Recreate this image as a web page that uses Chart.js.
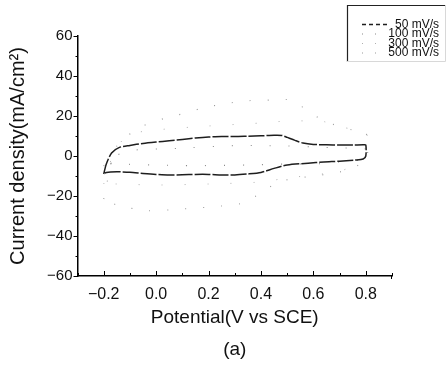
<!DOCTYPE html>
<html>
<head>
<meta charset="utf-8">
<script src="https://cdn.jsdelivr.net/npm/chart.js@4.4.1/dist/chart.umd.min.js"></script>
<style>
html,body{margin:0;padding:0;background:#fff;}
#wrap{width:447px;height:366px;}
</style>
</head>
<body>
<div id="wrap"><canvas id="c" width="447" height="366"></canvas></div>
<script>
// ---- data ----
const seriesLabels = ['50 mV/s', '100 mV/s', '300 mV/s', '500 mV/s'];

const potential50 = [-0.2, -0.19, -0.17, -0.14, -0.1, -0.05, 0.0, 0.05, 0.1, 0.15, 0.2, 0.25, 0.3, 0.35, 0.4, 0.45, 0.48, 0.5, 0.53, 0.56, 0.6, 0.65, 0.7, 0.75, 0.79, 0.8, 0.8, 0.79, 0.76, 0.7, 0.64, 0.58, 0.5, 0.45, 0.4, 0.35, 0.3, 0.25, 0.2, 0.15, 0.1, 0.05, 0.0, -0.05, -0.1, -0.15, -0.19, -0.2];
const current50 = [-9, -4, 1.5, 4.3, 5.3, 6.3, 7, 7.6, 8.3, 9, 9.5, 9.7, 9.7, 9.9, 10.1, 10.4, 10.3, 9.3, 7.8, 6.5, 5.8, 5.6, 5.5, 5.5, 5.6, 5.5, 0, -1.5, -2, -2.6, -3, -3.6, -4.5, -6.2, -8.2, -9, -9.5, -9.5, -9.2, -9.2, -9.4, -9.5, -9.2, -8.7, -8.1, -7.9, -8.2, -9];

const potential100 = [-0.2, -0.17, -0.1, 0.08, 0.3, 0.4, 0.5, 0.6, 0.7, 0.8, 0.8, 0.7, 0.6, 0.5, 0.35, 0.18, 0.1, 0.0, -0.1, -0.165, -0.2];
const current100 = [-5, -1, 2.7, 3.8, 5.2, 5.2, 5, 4.5, 4, 3.5, -1, -3, -4, -4, -4.5, -4.8, -4.8, -4.5, -4.2, -3.7, -5];

const potential300 = [-0.2, -0.16, -0.106, 0.0, 0.2, 0.4, 0.5, 0.6, 0.64, 0.71, 0.8, 0.8, 0.75, 0.7, 0.6, 0.5, 0.4, 0.2, 0.0, -0.15, -0.2];
const current300 = [-14, 2, 10.5, 13, 15, 16.5, 17.5, 17.5, 17.2, 14.3, 12, 0, -4.8, -7.7, -9.5, -11, -13, -14, -14.5, -14, -14];

const potential500 = [-0.2, -0.15, -0.05, 0.05, 0.125, 0.17, 0.27, 0.356, 0.45, 0.5, 0.53, 0.587, 0.65, 0.75, 0.8, 0.8, 0.7, 0.6, 0.486, 0.42, 0.34, 0.25, 0.1, -0.034, -0.15, -0.2];
const current500 = [-21.5, 5, 15, 19.5, 21.8, 23.8, 26.3, 27.7, 28, 28.2, 27, 21.8, 17, 13, 12, -2, -8, -10, -12.3, -16.5, -23.2, -25, -26.5, -27.3, -24.5, -21.5];

const xTickValues = [-0.2, 0.0, 0.2, 0.4, 0.6, 0.8];
const yTickValues = [-60, -40, -20, 0, 20, 40, 60];

// ---- build ----
function pts(xs, ys){ return xs.map((x,i)=>({x:x, y:ys[i]})); }
const styles = [
  {color:'#1e1e1e', width:1.5, dash:[16,2]},
  {color:'#8a8a8a', width:1.1, dash:[1,18]},
  {color:'#b0b0b0', width:1.0, dash:[1,22]},
  {color:'#9a9a9a', width:1.1, dash:[1,17]}
];
const dataPairs = [[potential50,current50],[potential100,current100],[potential300,current300],[potential500,current500]];
const datasets = dataPairs.map((p,i)=>({
  label: seriesLabels[i],
  data: pts(p[0],p[1]),
  showLine: true,
  pointRadius: 0,
  borderColor: styles[i].color,
  borderWidth: styles[i].width,
  borderDash: styles[i].dash,
  tension: 0.25,
  fill: false
}));

const minus = s => String(s).replace('-', '\u2212');

const tickPlugin = {
  id: 'manualTicks',
  afterDraw(chart){
    const ctx = chart.ctx, xs = chart.scales.x, ys = chart.scales.y;
    const a = chart.chartArea;
    ctx.save();
    ctx.strokeStyle = '#000';
    ctx.lineWidth = 1;
    for (let k = -3; k <= 9; k++){
      const v = k/10;
      const px = Math.round(xs.getPixelForValue(v)) + 0.5;
      const major = (k % 2 === 0);
      ctx.beginPath();
      ctx.moveTo(px, a.bottom);
      ctx.lineTo(px, a.bottom - (major ? 5 : 3));
      ctx.stroke();
    }
    ctx.beginPath();
    ctx.moveTo(a.right - 0.5, a.bottom);
    ctx.lineTo(a.right - 0.5, a.bottom + 3);
    ctx.stroke();
    for (let v = -60; v <= 60; v += 10){
      const py = Math.round(ys.getPixelForValue(v)) + 0.5;
      const major = (v % 20 === 0);
      ctx.beginPath();
      ctx.moveTo(a.left, py);
      ctx.lineTo(a.left - (major ? 4 : 2), py);
      ctx.stroke();
    }
    ctx.restore();
  }
};

const legendPlugin = {
  id: 'boxLegend',
  afterDraw(chart){
    const ctx = chart.ctx;
    const L = 347, T = 5, R = 446, B = 62;
    ctx.save();
    ctx.strokeStyle = '#222';
    ctx.lineWidth = 1.2;
    ctx.beginPath();
    ctx.moveTo(L + 0.5, B); ctx.lineTo(L + 0.5, T + 0.5); ctx.lineTo(R, T + 0.5);
    ctx.stroke();
    ctx.strokeStyle = '#d8d8d8';
    ctx.lineWidth = 1;
    ctx.beginPath();
    ctx.moveTo(R - 0.5, T); ctx.lineTo(R - 0.5, B - 0.5); ctx.lineTo(L, B - 0.5);
    ctx.stroke();
    const rows = [24.5, 34, 43.5, 53];
    ctx.font = '12px "Liberation Sans", Arial, sans-serif';
    ctx.fillStyle = '#111';
    ctx.textAlign = 'right';
    ctx.textBaseline = 'middle';
    chart.data.datasets.forEach((ds, i) => {
      const y = rows[i];
      ctx.fillText(ds.label, 439, y);
      ctx.save();
      ctx.strokeStyle = ds.borderColor;
      ctx.lineWidth = ds.borderWidth;
      ctx.setLineDash(i === 0 ? [4,3] : [1,12]);
      ctx.beginPath();
      ctx.moveTo(362, y); ctx.lineTo(388, y);
      ctx.stroke();
      ctx.restore();
    });
    ctx.restore();
  }
};

const fontFam = '"Liberation Sans", Arial, Helvetica, sans-serif';

new Chart(document.getElementById('c'), {
  type: 'scatter',
  data: { datasets },
  options: {
    responsive: false,
    animation: false,
    devicePixelRatio: 1,
    layout: { padding: { left: 0, top: 36, right: 55, bottom: 0 } },
    plugins: { legend: { display: false }, tooltip: { enabled: false } },
    scales: {
      x: {
        type: 'linear',
        min: -0.3, max: 0.9,
        afterBuildTicks: s => { s.ticks = xTickValues.map(v => ({value: v})); },
        afterFit: s => { s.height = 90; },
        grid: { display: true, drawOnChartArea: false, drawTicks: false, color: 'rgba(0,0,0,0)' },
        border: { display: true, color: '#000', width: 1.5 },
        ticks: {
          padding: 9, color: '#111',
          font: { family: fontFam, size: 16 },
          maxRotation: 0,
          callback: v => minus(Number(v).toFixed(1))
        },
        title: {
          display: true,
          text: ['Potential(V vs SCE)', '(a)'],
          color: '#111',
          font: { family: fontFam, size: 19, lineHeight: 1.68 },
          padding: { top: 0, bottom: 0 }
        }
      },
      y: {
        type: 'linear',
        min: -60, max: 60,
        afterBuildTicks: s => { s.ticks = yTickValues.map(v => ({value: v})); },
        afterFit: s => { s.width = 77.5; },
        grid: { display: true, drawOnChartArea: false, drawTicks: false, color: 'rgba(0,0,0,0)' },
        border: { display: true, color: '#000', width: 1.5 },
        ticks: {
          padding: 5, color: '#111',
          font: { family: fontFam, size: 15 },
          callback: v => minus(v)
        },
        title: {
          display: true,
          text: 'Current density(mA/cm\u00B2)',
          color: '#111',
          font: { family: fontFam, size: 20, lineHeight: 1.2 },
          padding: { top: 6, bottom: 0 }
        }
      }
    }
  },
  plugins: [tickPlugin, legendPlugin]
});
</script>
</body>
</html>
